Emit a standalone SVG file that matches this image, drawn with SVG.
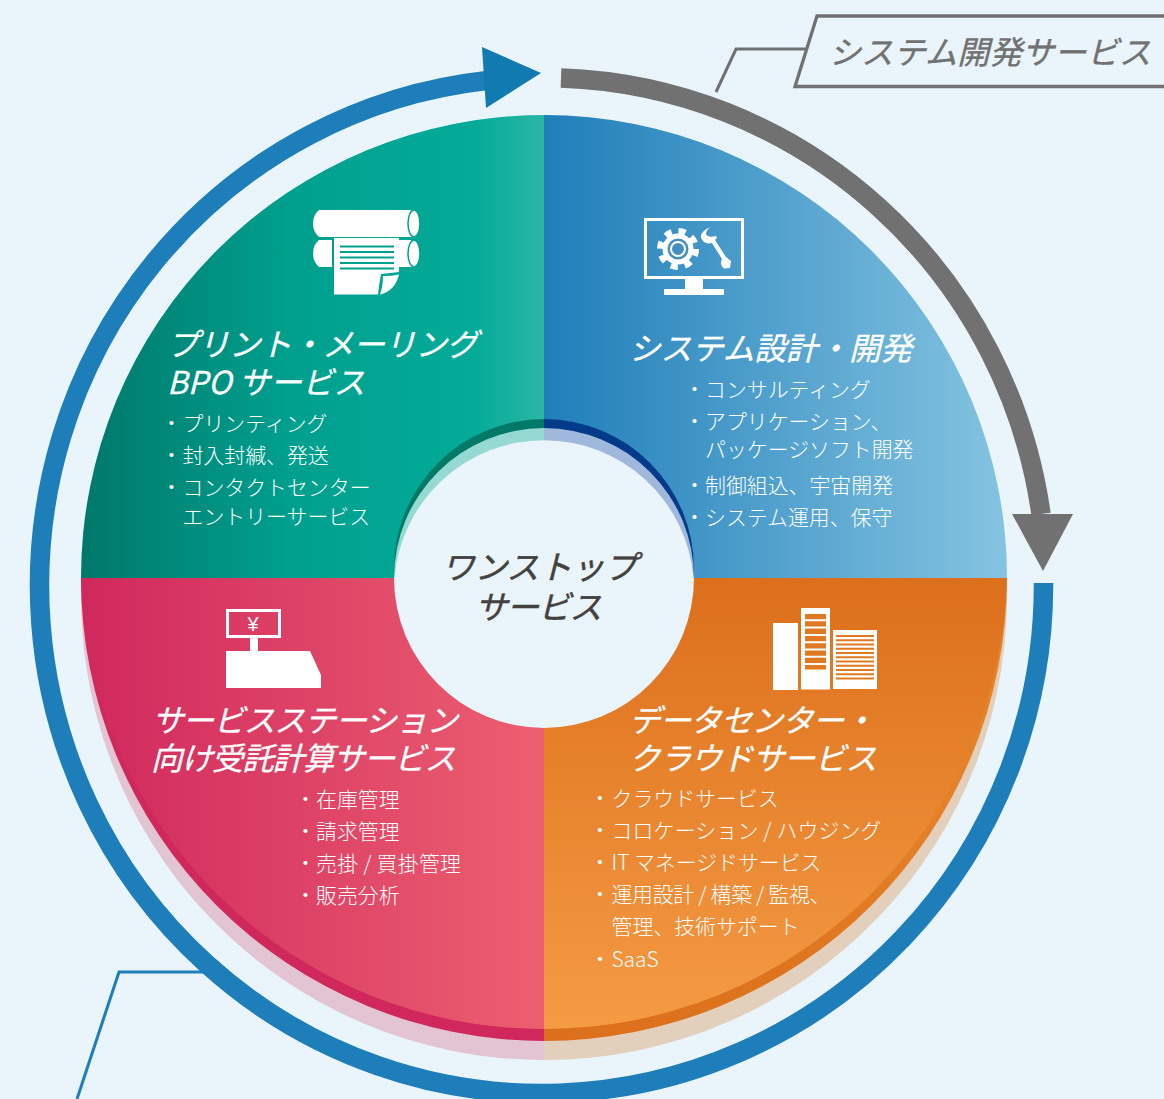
<svg xmlns="http://www.w3.org/2000/svg" width="1164" height="1099" viewBox="0 0 1164 1099">
<style>
text{font-family:"Noto Sans CJK JP","Noto Sans",sans-serif}
.t{font-size:31.5px;font-style:italic;fill:#fff;stroke:#fff;stroke-width:.3px}
.l{font-size:20.9px;fill:#fff;font-weight:300}
.c{font-size:32.5px;font-style:italic;fill:#444040;stroke:#444040;stroke-width:.5px}
.w{fill:#fff}
</style>
<defs>
<linearGradient id="gTL" gradientUnits="userSpaceOnUse" x1="81" y1="0" x2="544" y2="0"><stop offset="0" stop-color="#00786a"/><stop offset=".45" stop-color="#009f8e"/><stop offset=".85" stop-color="#04ab98"/><stop offset="1" stop-color="#2bb6a6"/></linearGradient>
<linearGradient id="gTR" gradientUnits="userSpaceOnUse" x1="544" y1="0" x2="1007" y2="0"><stop offset="0" stop-color="#1f7eb9"/><stop offset="1" stop-color="#85c4e1"/></linearGradient>
<linearGradient id="gBL" gradientUnits="userSpaceOnUse" x1="81" y1="0" x2="544" y2="0"><stop offset="0" stop-color="#d0285d"/><stop offset="1" stop-color="#ec5f70"/></linearGradient>
<linearGradient id="gBR" gradientUnits="userSpaceOnUse" x1="0" y1="578" x2="0" y2="1030"><stop offset="0" stop-color="#dc6f1b"/><stop offset="1" stop-color="#f59b44"/></linearGradient>
<linearGradient id="gBand" gradientUnits="userSpaceOnUse" x1="544" y1="0" x2="1007" y2="0"><stop offset="0" stop-color="#dc6f1b"/><stop offset=".5" stop-color="#de741e"/><stop offset="1" stop-color="#e5852c"/></linearGradient>
<clipPath id="up"><rect x="0" y="0" width="1164" height="578"/></clipPath>
</defs>
<rect width="1164" height="1099" fill="#e9f5fa"/>

<g id="connectors" fill="none">
<path d="M1043.500 583V585.500A502 508 0 1 1 486 80.600" stroke="#1e7eb9" stroke-width="19.500"/>
<path d="M561 78A502 508 0 0 1 1041 514" stroke="#717171" stroke-width="19.500"/>
<path d="M482 47L541 73L486 108Z" fill="#117ab0"/>
<path d="M1012 514H1073L1043 571Z" fill="#717171"/>
<path d="M716 92L736 49H806" stroke="#717171" stroke-width="3"/>
<path d="M204 972H119L77 1099" stroke="#1e7eb9" stroke-width="3"/>
</g>

<g id="service-label">
<path d="M1170 16H817L795 86.500H1170" fill="#e9f5fa" stroke="#717171" stroke-width="3.300"/>
<text x="829" y="64" font-size="32" font-style="italic" fill="#717171" stroke="#717171" stroke-width=".4" textLength="322">システム開発サービス</text>
</g>

<g id="node-print">
<path d="M544 578H81A463 463 0 0 1 544 115Z" fill="url(#gTL)"/>
<g id="icon-print">
<path class="w" d="M319 210H414V237H319Q313 232 313 223.500Q313 215 319 210Z"/>
<ellipse cx="414" cy="223.500" rx="6" ry="13.500" fill="#fff" stroke="#00a08f" stroke-width="1.500"/>
<path class="w" d="M319 240H332V267H319Q313 262 313 253.500Q313 245 319 240Z"/>
<rect class="w" x="399" y="240" width="15" height="27"/>
<ellipse cx="414" cy="253.500" rx="6" ry="13.500" fill="#fff" stroke="#00a08f" stroke-width="1.500"/>
<path class="w" d="M334 238H399V272L381 274Q379 285 378 294.500H334Z"/>
<path class="w" d="M383 276Q392 276 399 274.500Q395 291 380 294.500Q383 286 383 276Z"/>
<path d="M340 246.500H394M340 252H394M340 257.500H394M340 263H394M340 268.500H394" stroke="#00a08f" stroke-width="2.200"/>
</g>
<text class="t" x="167" y="356" textLength="311">プリント・メーリング</text>
<text class="t" x="167" y="394" textLength="198">BPO サービス</text>
<text class="l" x="161" y="430.500">・<tspan x="182.500">プリンティング</tspan></text>
<text class="l" x="161" y="462.500">・<tspan x="182.500">封入封緘、発送</tspan></text>
<text class="l" x="161" y="494.500">・<tspan x="182.500">コンタクトセンター</tspan></text>
<text class="l" x="182.500" y="523.500">エントリーサービス</text>
</g>

<g id="node-system">
<path d="M544 578V115A463 463 0 0 1 1007 578Z" fill="url(#gTR)"/>
<g id="icon-system">
<rect x="645.500" y="219.500" width="97" height="58" fill="none" stroke="#fff" stroke-width="3"/>
<rect class="w" x="685" y="279" width="18" height="11"/>
<rect class="w" x="664" y="289" width="60" height="6"/>
<circle cx="678" cy="249" r="15.500" fill="#fff"/>
<circle cx="678" cy="249" r="18" fill="none" stroke="#fff" stroke-width="6" stroke-dasharray="7.100 7.040"/>
<circle cx="678" cy="249" r="10.500" fill="#468fc2"/>
<circle cx="678" cy="249" r="7" fill="none" stroke="#fff" stroke-width="2"/>
<path class="w" d="M711 227Q700 231 701 238Q704 245 712 243L722 259Q719 265 724 268.500L730 268L731 261L726 257L715 240Q718 238 716 236Q708 238 706 234Q706 230 711 227Z"/>
</g>
<text class="t" x="629" y="360" textLength="283">システム設計・開発</text>
<text class="l" x="684" y="396.500">・<tspan x="705">コンサルティング</tspan></text>
<text class="l" x="684" y="428.500">・<tspan x="705">アプリケーション、</tspan></text>
<text class="l" x="705" y="457">パッケージソフト開発</text>
<text class="l" x="684" y="493">・<tspan x="705">制御組込、宇宙開発</tspan></text>
<text class="l" x="684" y="525">・<tspan x="705">システム運用、保守</tspan></text>
</g>

<g id="node-station">
<path d="M81.400 578A463 463 0 0 0 544 1060V578Z" fill="#e2c4d2"/>
<path d="M81 578A463 463 0 0 0 544 1041V578Z" fill="#d0285d"/>
<path d="M81 578A463 463 0 0 0 544 1029V578Z" fill="url(#gBL)"/>
<g id="icon-station">
<rect x="227.500" y="610.500" width="52" height="26" fill="none" stroke="#fff" stroke-width="3"/>
<text x="253" y="631" font-size="20" fill="#fff" text-anchor="middle" style="font-family:'Liberation Sans',sans-serif">¥</text>
<rect class="w" x="250" y="637" width="8" height="15"/>
<path class="w" d="M226 651H310L321 675V688H226Z"/>
</g>
<text class="t" x="152" y="731.500" textLength="306">サービスステーション</text>
<text class="t" x="151" y="769.500" textLength="305">向け受託計算サービス</text>
<text class="l" x="295" y="807">・</text><text class="l" x="316" y="807">在庫管理</text>
<text class="l" x="295" y="839">・</text><text class="l" x="316" y="839">請求管理</text>
<text class="l" x="295" y="871">・</text><text class="l" x="316" y="871" textLength="145">売掛 / 買掛管理</text>
<text class="l" x="295" y="903">・</text><text class="l" x="316" y="903">販売分析</text>
</g>

<g id="node-datacenter">
<path d="M1006.600 578A463 463 0 0 1 544 1060V578Z" fill="#e2d0bd"/>
<path d="M1007 578A463 463 0 0 1 544 1041V578Z" fill="url(#gBand)"/>
<path d="M1007 578A463 463 0 0 1 544 1029V578Z" fill="url(#gBR)"/>
<g id="icon-datacenter">
<rect class="w" x="773" y="623" width="25" height="67"/>
<rect class="w" x="801" y="608" width="29" height="81.500"/>
<path d="M815.500 614V669.500" stroke="#e07a22" stroke-width="21" stroke-dasharray="5.300 2" fill="none"/>
<rect class="w" x="833" y="630" width="44" height="59"/>
<path d="M855 635V680" stroke="#e07a22" stroke-width="38" stroke-dasharray="2 2.250" fill="none"/>
</g>
<text class="t" x="629" y="731.500" textLength="246">データセンター・</text>
<text class="t" x="629" y="769.500" textLength="248">クラウドサービス</text>
<text class="l" x="589.500" y="806">・</text><text class="l" x="611.500" y="806">クラウドサービス</text>
<text class="l" x="589.500" y="838">・</text><text class="l" x="611.500" y="838" textLength="270">コロケーション / ハウジング</text>
<text class="l" x="589.500" y="870">・</text><text class="l" x="611.500" y="870" textLength="210">IT マネージドサービス</text>
<text class="l" x="589.500" y="902">・</text><text class="l" x="611.500" y="902" textLength="219">運用設計 / 構築 / 監視、</text>
<text class="l" x="611.500" y="934">管理、技術サポート</text>
<text class="l" x="589.500" y="966.500">・</text><text class="l" x="611.500" y="966.500">SaaS</text>
</g>

<g id="node-center">
<g clip-path="url(#up)">
<path d="M544 419A150 150 0 0 0 394 569V578H544Z" fill="#007a66"/>
<path d="M544 419A150 150 0 0 1 694 569V578H544Z" fill="#033a8a"/>
<path d="M544 428A150 150 0 0 0 394 578H544Z" fill="#96d8d2"/>
<path d="M544 428A150 150 0 0 1 694 578H544Z" fill="#a0b8dc"/>
</g>
<path d="M394.500 578A150 150 0 0 1 693.500 578H694A150 150 0 0 1 394 578Z" fill="#e9f5fa"/>
<text class="c" x="442" y="578.500" textLength="195">ワンストップ</text>
<text class="c" x="475" y="619" textLength="127">サービス</text>
</g>
</svg>
